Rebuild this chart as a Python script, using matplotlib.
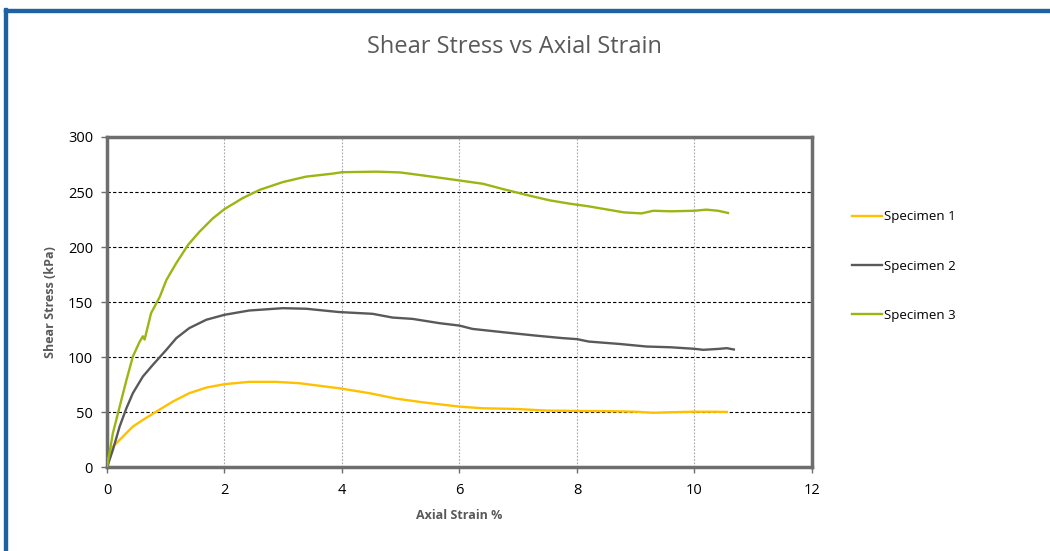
import matplotlib.pyplot as plt
from matplotlib.patches import Rectangle

# values
strain_1 = [0, 0.017, 0.10, 0.27, 0.44, 0.61, 0.84, 1.12, 1.4, 1.69, 2.0, 2.42, 2.88, 3.27, 3.95,
            4.47, 4.92, 5.38, 6.0, 6.4, 6.96, 7.48, 8.0, 8.5, 9.0, 9.3, 9.6, 10.0, 10.3, 10.55]
stress_1 = [0, 6.7, 18.8, 27.9, 37, 43, 50.6, 59.7, 67.3, 72.4, 75.5, 77.6, 77.6, 76.4, 71.8,
            67.3, 62.4, 59, 55.1, 53.6, 53, 51.5, 51.2, 51, 50.5, 49.5, 50, 50.5, 50.5, 50.3]

strain_2 = [0, 0.10, 0.215, 0.33, 0.44, 0.61, 0.78, 1.01, 1.18, 1.4, 1.69, 2.0, 2.42, 2.99, 3.39,
            3.95, 4.52, 4.86, 5.2, 5.66, 6.0, 6.22, 6.74, 7.3, 7.76, 8.0, 8.2, 8.73, 9.18, 9.6,
            10.0, 10.15, 10.4, 10.55, 10.67]
stress_2 = [0, 15.8, 37, 53.6, 67.3, 82.4, 93, 106.7, 117.3, 126.4, 134, 138.5, 142.4, 144.5, 144,
            141, 139.4, 136, 134.8, 130.9, 128.7, 125.7, 122.7, 119.6, 117.3, 116.4, 114.2, 112, 109.7, 109,
            107.6, 106.7, 107.5, 108.2, 107]

strain_3 = [0, 0.10, 0.215, 0.33, 0.44, 0.555, 0.61, 0.64, 0.75, 0.9, 1.01, 1.18, 1.38, 1.575, 1.8,
            2.0, 2.31, 2.6, 2.99, 3.39, 3.84, 4.0, 4.59, 4.99, 5.39, 6.0, 6.4, 6.74, 7.2, 7.54,
            7.88, 8.2, 8.8, 9.1, 9.3, 9.6, 10.0, 10.2, 10.4, 10.57]
stress_3 = [0, 30.9, 55, 79, 100.6, 114, 119, 116, 140, 155, 170, 185.5, 202, 214, 226,
            234.5, 244.5, 252, 259, 264, 266.7, 268, 268.5, 267.8, 265, 260.5, 257.5, 252.7, 246.6, 242.4,
            239.4, 237, 231.5, 230.6, 233, 232.5, 233, 234, 233, 231]

labels = ['Specimen 1', 'Specimen 2', 'Specimen 3']
colors = ['#FFC000', '#595959', '#9BB513']

x_ticks = [0, 2, 4, 6, 8, 10, 12]
y_ticks = [0, 50, 100, 150, 200, 250, 300]

plt.rcParams['font.family'] = ['Open Sans', 'DejaVu Sans']

fig = plt.figure(figsize=(10.5, 5.51), dpi=100)
ax = fig.add_axes([0.1019, 0.1519, 0.6714, 0.5995])

# blue frame around the chart area
fig.patches.append(Rectangle((0.004, 0.0), 0.003, 0.985, transform=fig.transFigure,
                             color='#1F62A3', zorder=0))
fig.patches.append(Rectangle((0.004, 0.978), 0.996, 0.0055, transform=fig.transFigure,
                             color='#1F62A3', zorder=0))

for xs, ys, lab, col in zip([strain_1, strain_2, strain_3], [stress_1, stress_2, stress_3],
                            labels, colors):
    ax.plot(xs, ys, color=col, linewidth=1.7, label=lab, zorder=3)

ax.set_xlim(0, 12)
ax.set_ylim(0, 300)
ax.set_xticks(x_ticks)
ax.set_yticks(y_ticks)

for y in y_ticks[1:-1]:
    ax.axhline(y, color='black', linewidth=0.8, linestyle=(0, (3, 2)), zorder=1)
for x in x_ticks[1:-1]:
    ax.axvline(x, color='#A6A6A6', linewidth=0.8, linestyle=(0, (1.5, 1.5)), zorder=1)

for sp in ax.spines.values():
    sp.set_color('#6E6E6E')
    sp.set_linewidth(2.5)

ax.tick_params(axis='both', colors='#6E6E6E', length=4, width=1, labelsize=10.5,
               labelcolor='black')
ax.tick_params(axis='x', pad=7)
ax.tick_params(axis='y', pad=6)

ax.set_xlabel('Axial Strain %', fontsize=9, fontweight='bold', color='#595959', labelpad=8)
ax.set_ylabel('Shear Stress (kPa)', fontsize=9, fontweight='bold', color='#595959', labelpad=8)

fig.text(0.49, 0.915, 'Shear Stress vs Axial Strain', fontsize=17, color='#595959',
         ha='center', va='center')

fig.legend(loc='center left', bbox_to_anchor=(0.8114, 0.5172), frameon=False, fontsize=9.5,
           handlelength=2.3, handletextpad=0.15, labelspacing=2.75, borderpad=0,
           borderaxespad=0)

fig.savefig('out.png', dpi=100)
